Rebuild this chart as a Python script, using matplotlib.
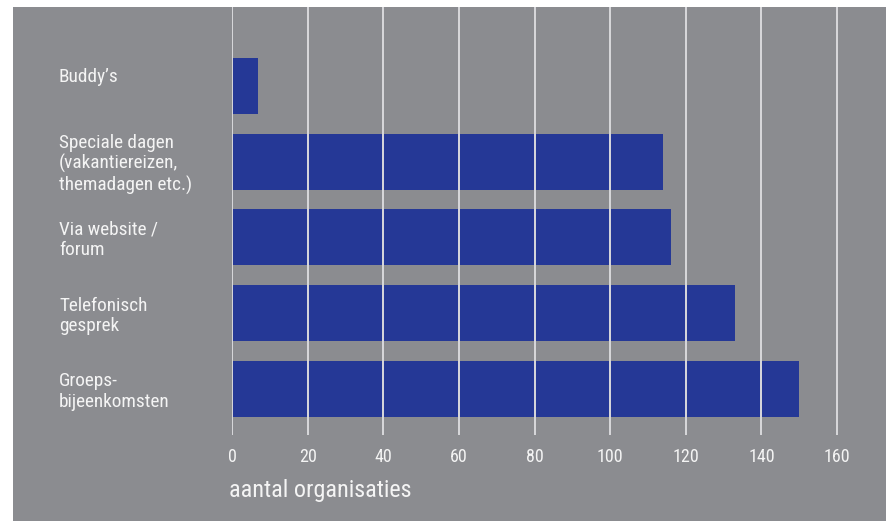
import matplotlib
matplotlib.use('Agg')
import matplotlib.pyplot as plt
import matplotlib.transforms as mtransforms
from matplotlib.patches import Rectangle
from matplotlib import font_manager

# ------------------------------------------------------------------
# data (bottom to top)
# ------------------------------------------------------------------
categories = ['Groeps-\nbijeenkomsten',
              'Telefonisch\ngesprek',
              'Via website /\nforum',
              'Speciale dagen\n(vakantiereizen,\nthemadagen etc.)',
              'Buddy\u2019s']
values = [150, 133, 116, 114, 7]
xticks = [0, 20, 40, 60, 80, 100, 120, 140, 160]

BG = '#8b8c90'
BAR = '#253896'
GRID = '#d9d9dc'
TXT = '#f4f4f4'

names = {f.name for f in font_manager.fontManager.ttflist}
family = 'DejaVu Sans'
for cand in ['Roboto Condensed', 'Liberation Sans Narrow', 'Open Sans Condensed']:
    if cand in names:
        family = cand
        break
plt.rcParams['font.family'] = [family, 'DejaVu Sans']
plt.rcParams['font.stretch'] = 'condensed'

W, H = 887, 522
fig = plt.figure(figsize=(W / 100, H / 100), dpi=100)
fig.patch.set_facecolor('white')
fig.patches.append(Rectangle((13 / W, 1 / H), 1 - 13 / W, (521 - 7) / H,
                             transform=fig.transFigure, facecolor=BG,
                             edgecolor='none', zorder=-5))

ax = fig.add_axes([232 / W, (H - 435) / H, (W - 232) / W, (435 - 7) / H])
ax.set_zorder(2)
ax.set_facecolor(BG)
ypos = list(range(len(categories)))
ax.barh(ypos, values, height=0.74, color=BAR, zorder=1)

ax.set_xlim(0, 173.2)
ax.set_ylim(-0.61, 5.04)
ax.set_xticks(xticks)
ax.set_xticklabels([str(t) for t in xticks], color=TXT, fontsize=13)
ax.set_yticks([])
ax.tick_params(axis='both', length=0)
ax.tick_params(axis='x', pad=9)
for x in xticks:
    ax.axvline(x, color=GRID, lw=1.4, zorder=2)
for s in ax.spines.values():
    s.set_visible(False)

# category labels, left aligned in the grey panel
blend = mtransforms.blended_transform_factory(fig.transFigure, ax.transData)
for y, lab in zip(ypos, categories):
    dy = 6 if lab.startswith('Buddy') else -2   # points
    tr = blend + mtransforms.ScaledTranslation(0, dy / 72, fig.dpi_scale_trans)
    ax.text(59 / W, y, lab, transform=tr, color=TXT, fontsize=13.9,
            ha='left', va='center', linespacing=1.17, clip_on=False)

fig.text(229 / W, 1 - 490 / H, 'aantal organisaties', color=TXT,
         fontsize=17.4, va='center', ha='left', zorder=3)

fig.savefig('out.png', dpi=100, facecolor='white')
